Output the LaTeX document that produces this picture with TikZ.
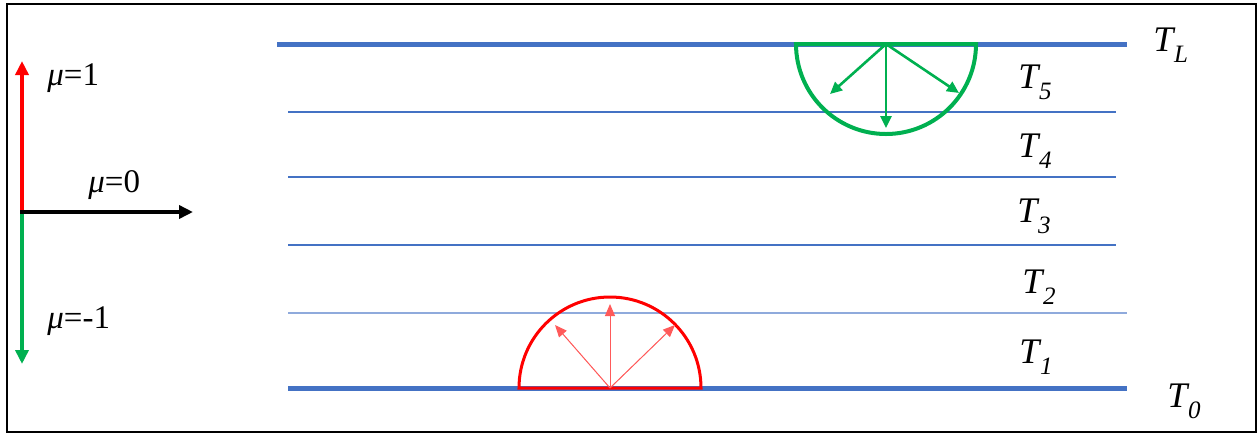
\documentclass[tikz,border=0pt]{standalone}
\usepackage{fontspec}
\setmainfont{Liberation Serif}
\usetikzlibrary{arrows.meta}
\definecolor{lblue}{HTML}{4472C4}
\definecolor{pblue}{HTML}{8FAADC}
\definecolor{myred}{HTML}{FF0000}
\definecolor{lred}{HTML}{FF5A5A}
\definecolor{mygreen}{HTML}{00B050}
\newcommand{\Tlab}[1]{\itshape T\kern0.02em\raisebox{-0.32em}{\fontsize{12.5}{13}\selectfont #1}}
\begin{document}
\begin{tikzpicture}[x=0.5pt,y=-0.5pt,
  thickline/.style={draw=lblue,line width=2.5pt},
  thinline/.style={draw=lblue,line width=0.6pt},
  paleline/.style={draw=pblue,line width=0.8pt},
  tlabel/.style={anchor=base west,inner sep=0pt,font=\fontsize{18}{20}\selectfont},
  mulabel/.style={anchor=base west,inner sep=0pt,font=\fontsize{16.5}{18}\selectfont},
  axis/.style={line width=2pt,-{Triangle[length=7pt,width=6.5pt]}},
  redray/.style={draw=lred,line width=0.5pt,-{Triangle[length=6pt,width=5pt]},color=lred,fill=myred},
  greenray/.style={draw=mygreen,line width=1.3pt,-{Triangle[length=6pt,width=5.5pt]}}]
\useasboundingbox (0,0) rectangle (1257,435);
\draw[line width=1pt] (7,4) rectangle (1256,432);

% layer lines
\coordinate (L0a) at (288,388); \coordinate (L0b) at (1127,388);
\coordinate (L1a) at (288,313); \coordinate (L1b) at (1127,313);
\coordinate (L2a) at (288,245); \coordinate (L2b) at (1116,245);
\coordinate (L3a) at (288,177); \coordinate (L3b) at (1116,177);
\coordinate (L4a) at (288,112); \coordinate (L4b) at (1116,112);
\coordinate (L5a) at (277,44);  \coordinate (L5b) at (1127,44);
\draw[paleline] (L1a) -- (L1b);
\draw[thinline] (L2a) -- (L2b);
\draw[thinline] (L3a) -- (L3b);
\draw[thinline] (L4a) -- (L4b);
\draw[thickline] (L0a) -- (L0b);
\draw[thickline] (L5a) -- (L5b);

% labels
\node[tlabel] (TL) at (1153,51) {\Tlab{L}};
\node[tlabel] (T5) at (1018,88) {\Tlab{5}};
\node[tlabel] (T4) at (1018,157) {\Tlab{4}};
\node[tlabel] (T3) at (1017,222) {\Tlab{3}};
\node[tlabel] (T2) at (1022,293) {\Tlab{2}};
\node[tlabel] (T1) at (1019,363) {\Tlab{1}};
\node[tlabel] (T0) at (1167,407) {\Tlab{0}};

% red hemisphere
\coordinate (rc) at (610,388);
\draw[myred,line width=1.5pt] (519,388) arc[start angle=180,end angle=360,radius=91] -- cycle;
\coordinate (r1) at (555,325);
\coordinate (r2) at (610,304);
\coordinate (r3) at (675,325);
\draw[redray] (rc) -- (r1);
\draw[redray] (rc) -- (r2);
\draw[redray] (rc) -- (r3);

% green hemisphere
\coordinate (gc) at (886,44);
\draw[mygreen,line width=2pt] (796,44) arc[start angle=180,end angle=0,radius=90] -- cycle;
\coordinate (g1) at (830,94);
\coordinate (g2) at (886,128);
\coordinate (g3) at (959,93);
\draw[greenray] (gc) -- (g1);
\draw[greenray] (gc) -- (g2);
\draw[greenray] (gc) -- (g3);

% direction axes
\coordinate (o) at (22,212);
\coordinate (up) at (22,61);
\coordinate (dn) at (22,364);
\coordinate (rt) at (193,212);
\draw[axis,myred] ([yshift=-1pt]o) -- (up);
\draw[axis,mygreen] ([yshift=1pt]o) -- (dn);
\draw[axis,black] ([xshift=-1pt]o) -- (rt);
\node[mulabel] (m1) at (47,85) {\textit{μ}=1};
\node[mulabel] (m0) at (88,192) {\textit{μ}=0};
\node[mulabel] (mm1) at (47,328) {\textit{μ}=-1};
\end{tikzpicture}
\end{document}
